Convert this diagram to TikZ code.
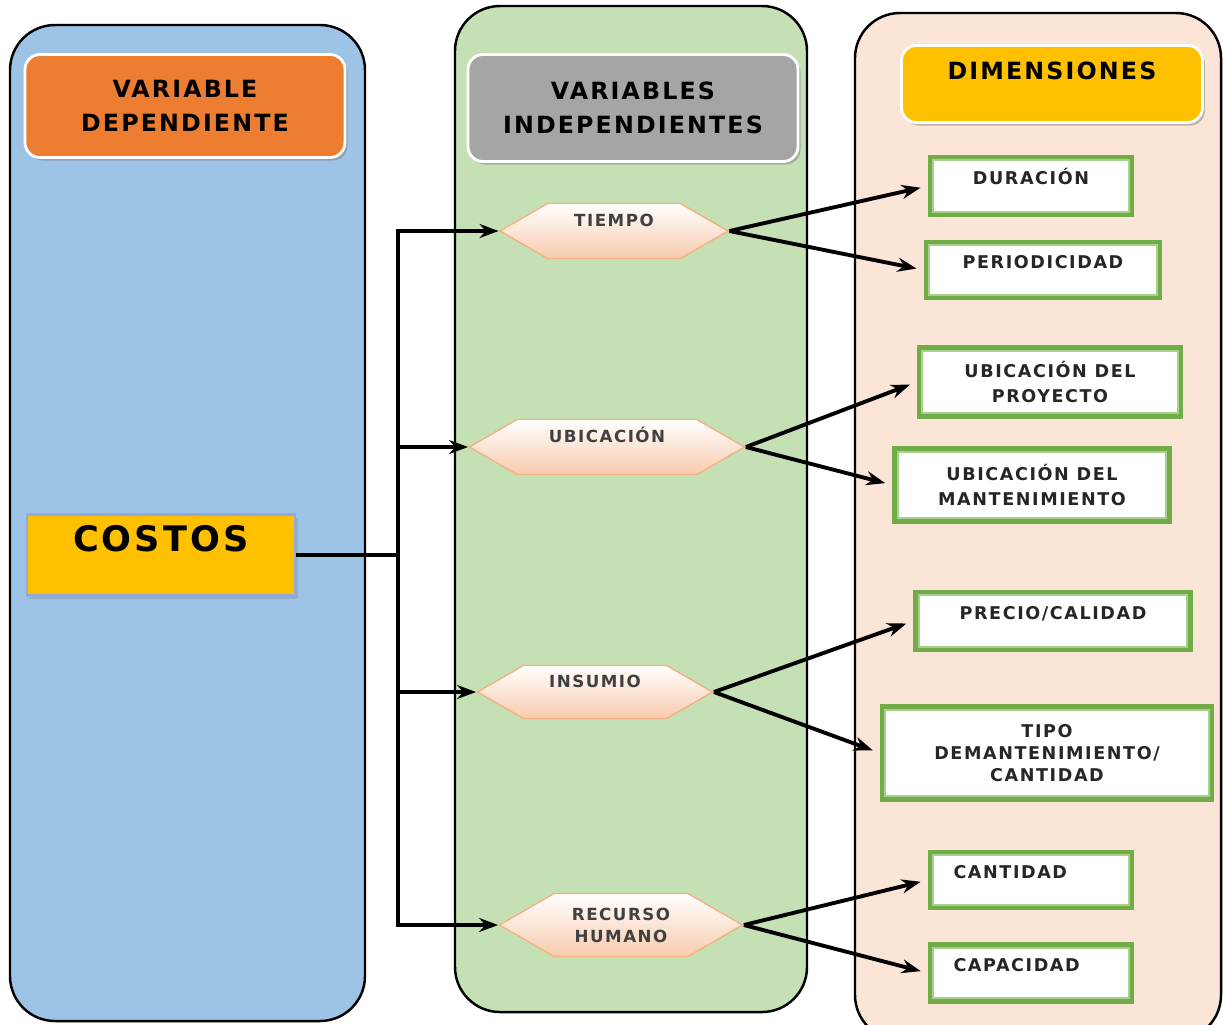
\documentclass[tikz,border=0pt]{standalone}
\usepackage{fontspec}
\setmainfont{DejaVu Sans}
\newfontfamily\letra[LetterSpace=9]{DejaVu Sans}
\usetikzlibrary{arrows.meta,shapes.symbols,shadows}
\definecolor{azul}{HTML}{9DC3E6}
\definecolor{verdecol}{HTML}{C5E0B4}
\definecolor{durazno}{HTML}{FBE5D6}
\definecolor{naranja}{HTML}{ED7D31}
\definecolor{gris}{HTML}{A5A5A5}
\definecolor{amarillo}{HTML}{FFC000}
\definecolor{verde}{HTML}{70AD47}
\definecolor{verdeclaro}{HTML}{A9D18E}
\definecolor{hexfondo}{HTML}{F8CBAD}
\definecolor{hexborde}{HTML}{F4B183}
\definecolor{bordeazul}{HTML}{8FAADC}
\tikzset{
  columna/.style={draw=black, line width=1.4pt, rounded corners=9mm},
  titulo/.style={draw=white, line width=1.6pt, rounded corners=3mm, align=center,
    font=\letra\bfseries\fontsize{13.5}{19}\selectfont,
    drop shadow={shadow xshift=0.5mm, shadow yshift=-0.6mm, fill=black!50, opacity=0.5}},
  varindep/.style={signal, signal to=west and east, signal pointer angle=60,
    draw=hexborde, line width=0.8pt, top color=white, bottom color=hexfondo,
    font=\letra\bfseries\fontsize{9.5}{13}\selectfont, text=black!75, align=center},
  dimension/.style={rectangle, draw=verde, line width=2.4pt, fill=white,
    path picture={\draw[verdeclaro, line width=5pt] (path picture bounding box.south west)
      rectangle (path picture bounding box.north east);},
    font=\letra\bfseries\fontsize{10}{14.5}\selectfont, text=black!85, align=center},
  subir/.style={text height=2.5mm, text depth=#1},
  linea/.style={line width=2.2pt},
  flecha/.style={line width=2.2pt, -{Stealth[length=3.8mm,width=2.8mm]}},
}
\begin{document}
\begin{tikzpicture}[x=0.2mm,y=-0.2mm]
  \useasboundingbox (0,0) rectangle (1223,1024);
  % columnas
  \draw[columna, fill=azul] (10,25) rectangle (365,1021);
  \draw[columna, fill=verdecol] (455,6) rectangle (807,1012);
  \draw[columna, fill=durazno] (855,13) rectangle (1221,1040);
  % titulos
  \node[titulo, fill=naranja, minimum width=64mm, minimum height=20.6mm] (dependiente) at (185,106) {VARIABLE\\DEPENDIENTE};
  \node[titulo, fill=gris, minimum width=66mm, minimum height=21.4mm] (independientes) at (633,108) {VARIABLES\\INDEPENDIENTES};
  \node[titulo, fill=amarillo, minimum width=60.2mm, minimum height=15.4mm, text height=3.4mm, text depth=5.2mm] (dimensiones) at (1052,84) {DIMENSIONES};
  % variable dependiente
  \node[draw=bordeazul, line width=1.2pt, fill=amarillo, minimum width=53.6mm, minimum height=16.2mm,
    text height=5.2mm, text depth=6.8mm, font=\letra\bfseries\fontsize{20}{22}\selectfont,
    drop shadow={shadow xshift=0.5mm, shadow yshift=-0.6mm, fill=black!40, opacity=0.5}] (costos) at (161,555) {COSTOS};
  % variables independientes
  \node[varindep, minimum width=45.6mm, minimum height=11mm, subir=4.4mm] (tiempo) at (614,231) {TIEMPO};
  \node[varindep, minimum width=55mm, minimum height=11mm, subir=4.4mm] (ubicacion) at (607,447) {UBICACIÓN};
  \node[varindep, minimum width=47mm, minimum height=10.6mm, subir=4.4mm] (insumo) at (595,692) {INSUMIO};
  \node[varindep, minimum width=48.6mm, minimum height=12.6mm, font=\letra\bfseries\fontsize{9.5}{12.5}\selectfont] (recurso) at (621,925) {RECURSO\\HUMANO};
  % dimensiones
  \node[dimension, minimum width=40.4mm, minimum height=11.6mm, subir=3mm] (duracion) at (1031,186) {DURACIÓN};
  \node[dimension, minimum width=46.8mm, minimum height=11.2mm, subir=3mm] (periodicidad) at (1043,270) {PERIODICIDAD};
  \node[dimension, minimum width=52.4mm, minimum height=13.8mm] (proyecto) at (1050,382) {UBICACIÓN DEL\\PROYECTO};
  \node[dimension, minimum width=55mm, minimum height=14.6mm] (mantenimiento) at (1032,485) {UBICACIÓN DEL\\MANTENIMIENTO};
  \node[dimension, minimum width=55mm, minimum height=11.6mm, subir=3mm] (precio) at (1053,621) {PRECIO/CALIDAD};
  \node[dimension, minimum width=66mm, minimum height=18.6mm, font=\letra\bfseries\fontsize{10}{12.5}\selectfont] (tipo) at (1047,753) {TIPO\\DEMANTENIMIENTO/\\CANTIDAD};
  \node[dimension, minimum width=40.4mm, minimum height=11.2mm, text width=31mm, align=left, subir=3mm] (cantidad) at (1031,880) {CANTIDAD};
  \node[dimension, minimum width=40.4mm, minimum height=11.4mm, text width=31mm, align=left, subir=3mm] (capacidad) at (1031,973) {CAPACIDAD};
  % conectores
  \coordinate (bus) at (398,555);
  \draw[linea] (costos.east) -- (bus);
  \foreach \v in {tiempo,ubicacion,insumo,recurso}
    \draw[flecha] (bus) |- (\v.west);
  \begin{scope}[shorten >=1.5mm]
    \draw[flecha] (tiempo.east) -- (duracion.west);
    \draw[flecha] (tiempo.east) -- (periodicidad.west);
    \draw[flecha] (ubicacion.east) -- (proyecto.west);
    \draw[flecha] (ubicacion.east) -- (mantenimiento.west);
    \draw[flecha] (insumo.east) -- (precio.west);
    \draw[flecha] (insumo.east) -- (tipo.west);
    \draw[flecha] (recurso.east) -- (cantidad.west);
    \draw[flecha] (recurso.east) -- (capacidad.west);
  \end{scope}
\end{tikzpicture}
\end{document}
